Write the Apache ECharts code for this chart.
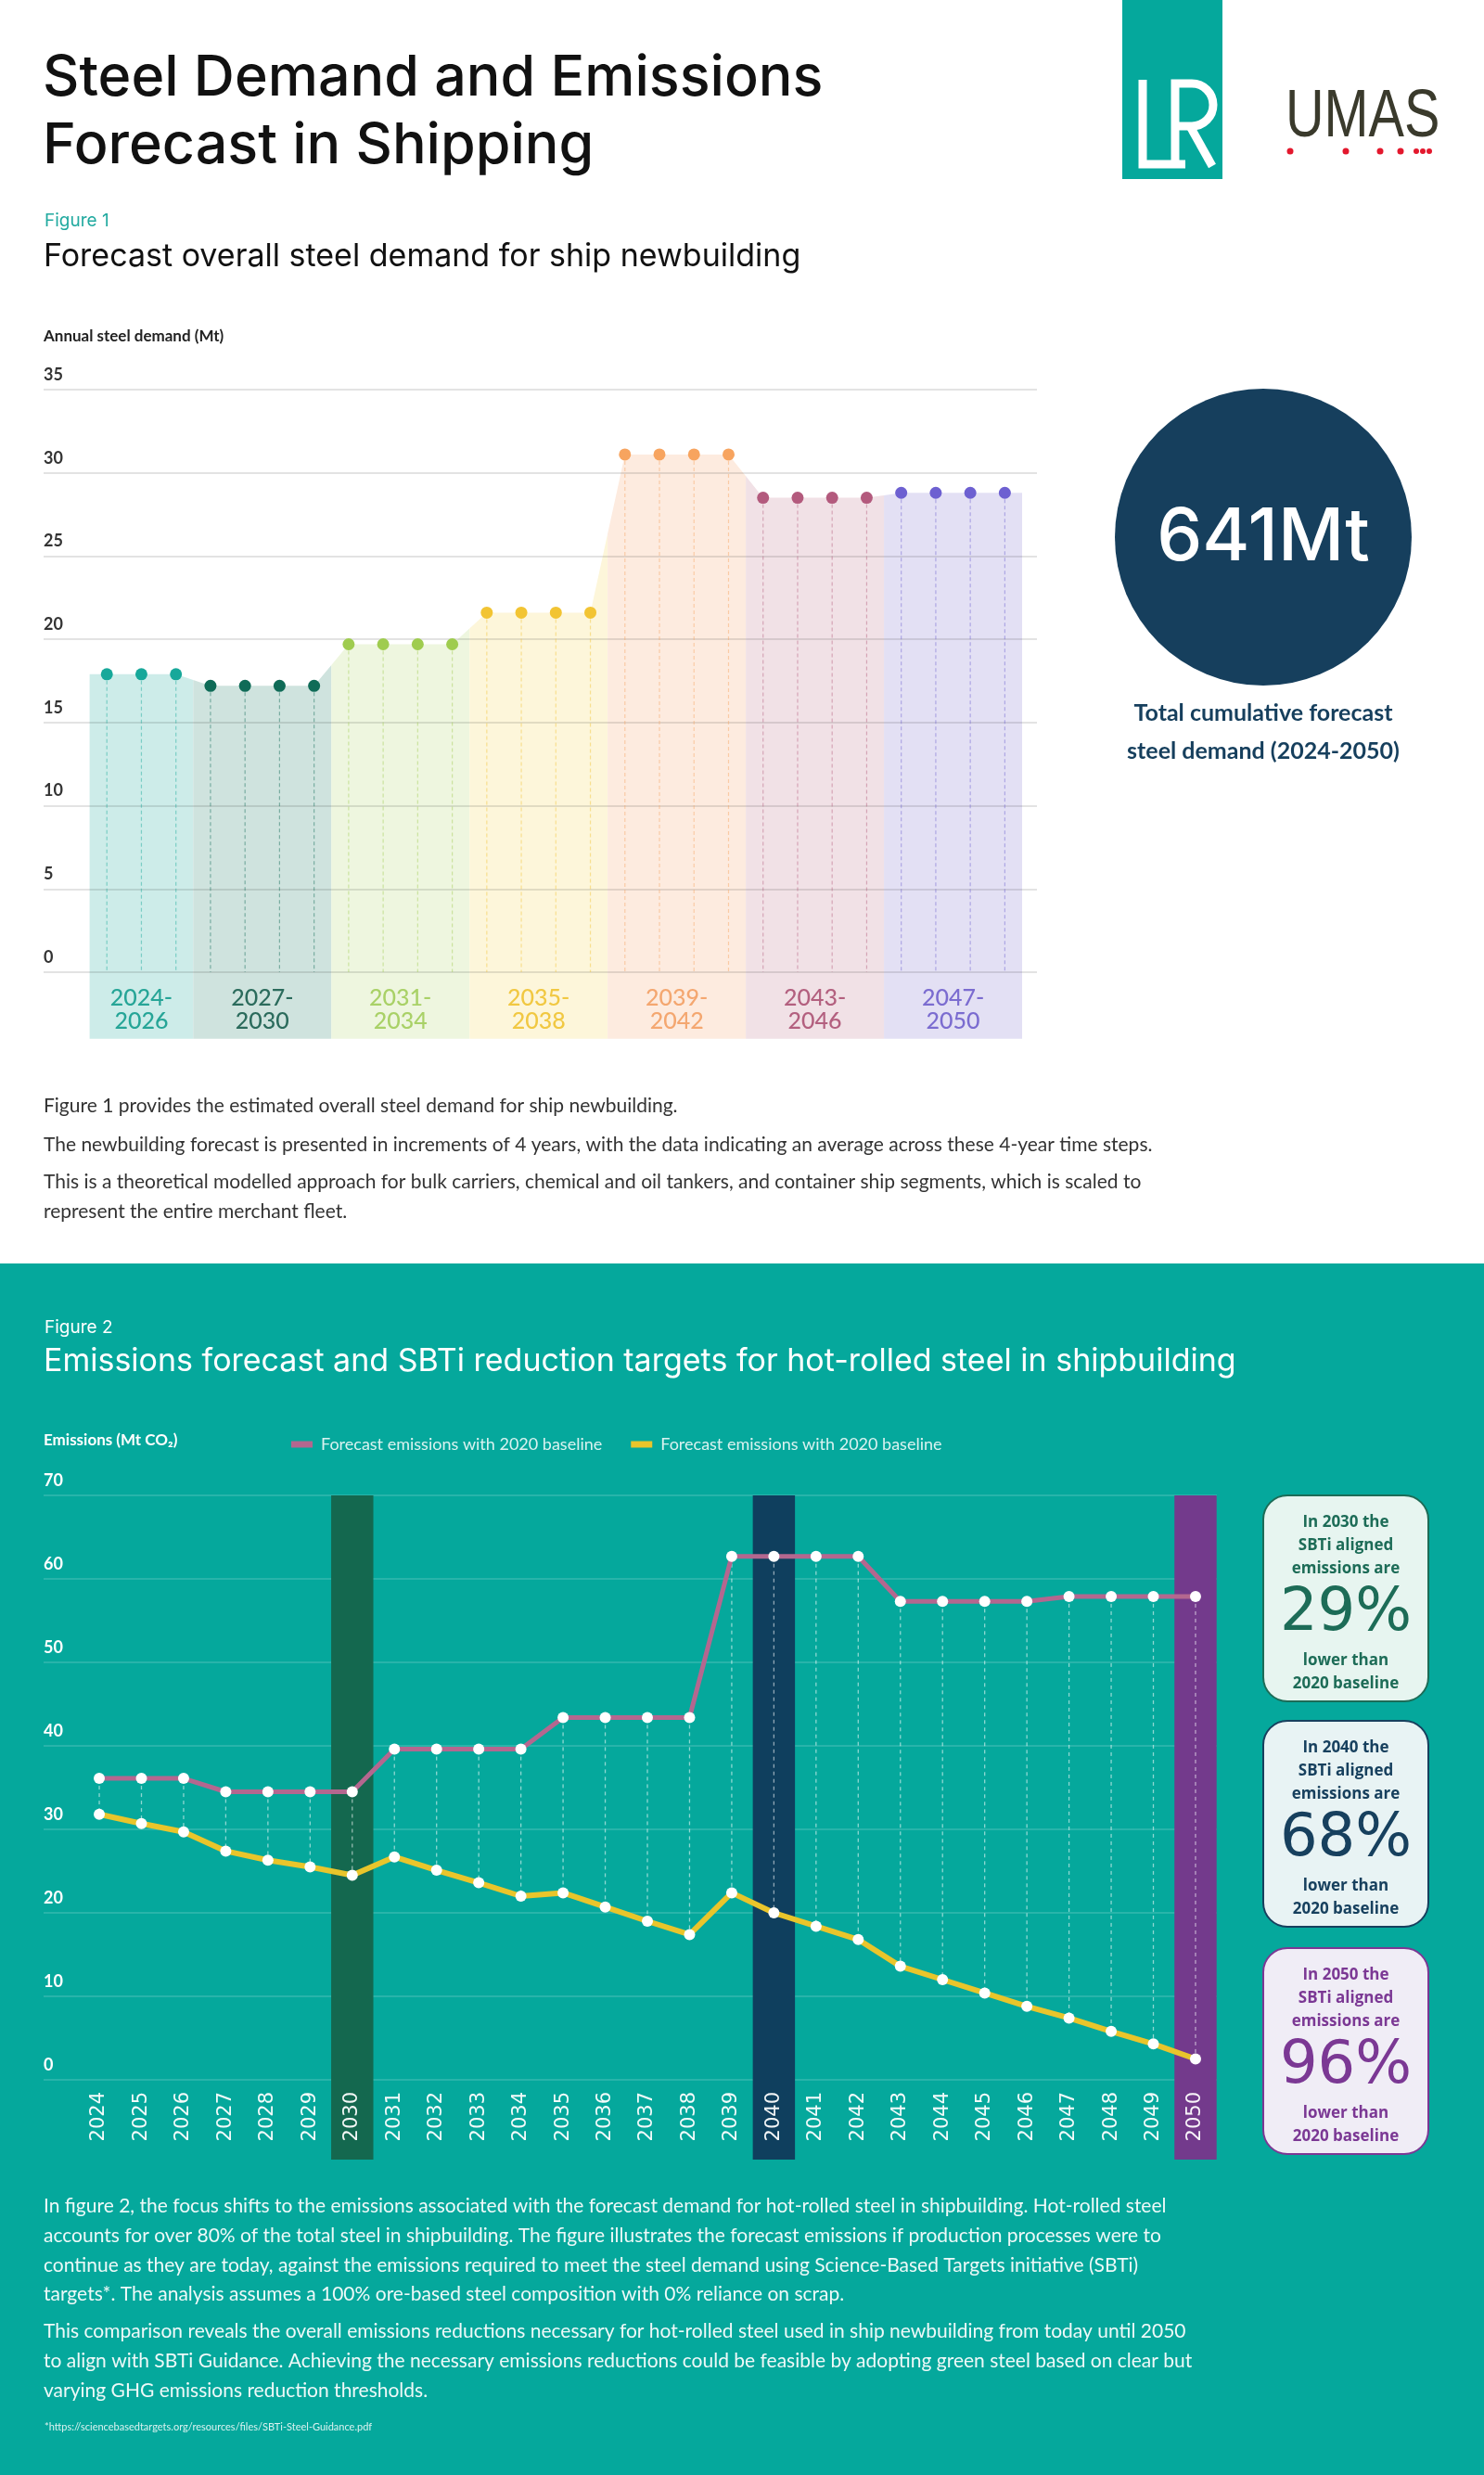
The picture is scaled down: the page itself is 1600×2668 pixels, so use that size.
<!DOCTYPE html>
<html>
<head>
<meta charset="utf-8">
<script src="https://cdn.jsdelivr.net/npm/echarts@6.0.0/dist/echarts.min.js"></script>
<style>
html,body{margin:0;padding:0;background:#fff;}
#chart{width:1600px;height:2668px;}
</style>
</head>
<body>
<div id="chart"></div>
<script>
// ---------- Figure 1 data ----------
const steelYears = [2024,2025,2026,2027,2028,2029,2030,2031,2032,2033,2034,2035,2036,2037,2038,2039,2040,2041,2042,2043,2044,2045,2046,2047,2048,2049,2050];
const steelValues = [17.9,17.9,17.9,17.2,17.2,17.2,17.2,19.7,19.7,19.7,19.7,21.6,21.6,21.6,21.6,31.1,31.1,31.1,31.1,28.5,28.5,28.5,28.5,28.8,28.8,28.8,28.8];
const groupLabels = ['2024-\n2026','2027-\n2030','2031-\n2034','2035-\n2038','2039-\n2042','2043-\n2046','2047-\n2050'];
const groupStart = [2024,2027,2031,2035,2039,2043,2047];
const groupEnd = [2026,2030,2034,2038,2042,2046,2050];
const totalDemand = '641Mt';

// ---------- Figure 2 data ----------
const emisYears = ['2024','2025','2026','2027','2028','2029','2030','2031','2032','2033','2034','2035','2036','2037','2038','2039','2040','2041','2042','2043','2044','2045','2046','2047','2048','2049','2050'];
const forecastEmissions = [36.1,36.1,36.1,34.5,34.5,34.5,34.5,39.6,39.6,39.6,39.6,43.4,43.4,43.4,43.4,62.7,62.7,62.7,62.7,57.3,57.3,57.3,57.3,57.9,57.9,57.9,57.9];
const sbtiEmissions = [31.8,30.7,29.7,27.4,26.3,25.5,24.5,26.7,25.1,23.6,22.0,22.4,20.7,19.0,17.4,22.4,20.0,18.4,16.8,13.6,12.0,10.4,8.8,7.4,5.8,4.3,2.5];
const seriesNames = ['Forecast emissions with 2020 baseline','SBTi aligned emissions'];
const legendLabels = ['Forecast emissions with 2020 baseline','Forecast emissions with 2020 baseline'];
const highlightYears = ['2030','2040','2050'];
const reductionPct = ['29%','68%','96%'];

// ---------- styles ----------
const bandFill = ['#cdece9','#cfe3de','#eef6df','#fdf6da','#fdebdf','#f1e1e6','#e3e0f4'];
const dotColor = ['#17a89a','#0f6b57','#9fcc4f','#f2c433','#f7a45f','#b35a7d','#6d60d1'];
const labelColor = ['#26a597','#2b6b5c','#a9d167','#f1c842','#f4a770','#b3607f','#7b6cd0'];
const hlColor = ['#14684f','#0f3f5e','#733a8c'];
const boxFill = ['#e7f5f0','#e8f3f4','#f0edf6'];
const boxText = ['#1d6c57','#17405e','#7b3894'];
const teal = '#05a89c';
const pink = '#b4678f';
const yellow = '#e9c52b';

const groupOf = y => groupStart.findIndex((s, i) => y >= s && y <= groupEnd[i]);
const valAt = y => steelValues[steelYears.indexOf(y)];

const chart = echarts.init(document.getElementById('chart'), null, {renderer: 'canvas'});

// ---------- graphic (text, logos, boxes) ----------
const T = (x, y, text, font, fill, align) => ({
  type: 'text', x: x, y: y, z: 100,
  style: {text: text, font: font, fill: fill, align: align || 'left', verticalAlign: 'middle', textAlign: align || 'left', textVerticalAlign: 'middle'}
});

const graphics = [];
graphics.push({type:'rect', z:-10, shape:{x:0,y:1362,width:1600,height:1306}, style:{fill: teal}});
// LR logo
const wl = {stroke:'#fff', lineWidth:9, fill:null, lineJoin:'miter'};
graphics.push({type:'rect', z:50, shape:{x:1210,y:0,width:108,height:193}, style:{fill: teal}});
graphics.push({type:'polyline', z:51, shape:{points:[[1232,86],[1232,177],[1278,177]]}, style:wl});
graphics.push({type:'polyline', z:51, shape:{points:[[1267,177],[1267,90],[1285,90]]}, style:wl});
graphics.push({type:'polyline', z:51, shape:{points:[[1267,136],[1285,136]]}, style:wl});
graphics.push({type:'arc', z:51, shape:{cx:1285, cy:113, r:23, startAngle:-Math.PI/2, endAngle:Math.PI/2, clockwise:true}, style:wl});
graphics.push({type:'line', z:51, shape:{x1:1283, y1:136, x2:1307, y2:179}, style:wl});
// UMAS logo
graphics.push({type:'text', z:51, x:1386, y:127, scaleX:0.8, style:{text:'UMAS', font:'400 72px "Liberation Sans Narrow", "Liberation Sans", sans-serif', fill:'#3a3a2c', verticalAlign:'middle', textVerticalAlign:'middle'}});
[[1391,3.5],[1451,3.5],[1488,3.5],[1510,3.5],[1527,3],[1534,3],[1541,3]].forEach(d => {
  graphics.push({type:'circle', z:51, shape:{cx:d[0], cy:163, r:d[1]}, style:{fill:'#e3182d'}});
});
// Titles
graphics.push(T(46, 85, 'Steel Demand and Emissions', '500 61px Inter', '#111'));
graphics.push(T(46, 158, 'Forecast in Shipping', '500 61px Inter', '#111'));
graphics.push(T(48, 238, 'Figure 1', '400 19px Inter', '#22aaa0'));
graphics.push(T(47, 277, 'Forecast overall steel demand for ship newbuilding', '400 34px Inter', '#111'));
graphics.push(T(47, 363, 'Annual steel demand (Mt)', '700 17px Lato', '#222'));
// circle
graphics.push({type:'circle', z:5, shape:{cx:1362, cy:579, r:160}, style:{fill:'#163f5d'}});
graphics.push(T(1362, 581, totalDemand, '500 78px Inter', '#fff', 'center'));
graphics.push(T(1362, 769, 'Total cumulative forecast', '700 25px Lato', '#163f5d', 'center'));
graphics.push(T(1362, 810, 'steel demand (2024-2050)', '700 25px Lato', '#163f5d', 'center'));
// Figure 1 paragraphs
const p1 = [
  ['Figure 1 provides the estimated overall steel demand for ship newbuilding.', 1192],
  ['The newbuilding forecast is presented in increments of 4 years, with the data indicating an average across these 4-year time steps.', 1234],
  ['This is a theoretical modelled approach for bulk carriers, chemical and oil tankers, and container ship segments, which is scaled to', 1274],
  ['represent the entire merchant fleet.', 1306]
];
p1.forEach(p => graphics.push(T(47, p[1], p[0], '400 21px Lato', '#333')));
// Figure 2 headings
graphics.push(T(48, 1431, 'Figure 2', '400 19px Inter', '#fff'));
graphics.push(T(47, 1468, 'Emissions forecast and SBTi reduction targets for hot-rolled steel in shipbuilding', '400 34px Inter', '#fff'));
graphics.push(T(47, 1553, 'Emissions (Mt CO₂)', '700 17px Lato, "Noto Sans"', '#fff'));
// Figure 2 paragraphs
const p2 = [
  ['In figure 2, the focus shifts to the emissions associated with the forecast demand for hot-rolled steel in shipbuilding. Hot-rolled steel', 2378],
  ['accounts for over 80% of the total steel in shipbuilding. The figure illustrates the forecast emissions if production processes were to', 2410],
  ['continue as they are today, against the emissions required to meet the steel demand using Science-Based Targets initiative (SBTi)', 2442],
  ['targets*. The analysis assumes a 100% ore-based steel composition with 0% reliance on scrap.', 2473],
  ['This comparison reveals the overall emissions reductions necessary for hot-rolled steel used in ship newbuilding from today until 2050', 2513],
  ['to align with SBTi Guidance. Achieving the necessary emissions reductions could be feasible by adopting green steel based on clear but', 2545],
  ['varying GHG emissions reduction thresholds.', 2577]
];
p2.forEach(p => graphics.push(T(47, p[1], p[0], '400 21px Lato', 'rgba(255,255,255,0.93)')));
graphics.push(T(48, 2616, '*https://sciencebasedtargets.org/resources/files/SBTi-Steel-Guidance.pdf', '400 11px Lato', 'rgba(255,255,255,0.85)'));
// Right boxes
const boxTop = [1612, 1855, 2100];
highlightYears.forEach((yr, i) => {
  const t = boxTop[i];
  graphics.push({type:'rect', z:20, shape:{x:1362, y:t, width:178, height:222, r:26}, style:{fill: boxFill[i], stroke: boxText[i], lineWidth: 2}});
  const f = '700 17px "Open Sans"';
  graphics.push(T(1451, t + 29, 'In ' + yr + ' the', f, boxText[i], 'center'));
  graphics.push(T(1451, t + 54, 'SBTi aligned', f, boxText[i], 'center'));
  graphics.push(T(1451, t + 79, 'emissions are', f, boxText[i], 'center'));
  graphics.push(T(1451, t + 128, reductionPct[i], '500 64px "DejaVu Sans"', boxText[i], 'center'));
  graphics.push(T(1451, t + 178, 'lower than', f, boxText[i], 'center'));
  graphics.push(T(1451, t + 203, '2020 baseline', f, boxText[i], 'center'));
});

// ---------- option ----------
const option = {
  animation: false,
  graphic: {elements: graphics},
  legend: {
    left: 309, top: 1543, itemWidth: 23, itemHeight: 7, itemGap: 31, icon: 'rect',
    data: [
      {name: seriesNames[0], icon: 'rect', itemStyle: {color: pink}},
      {name: seriesNames[1], icon: 'rect', itemStyle: {color: yellow}}
    ],
    formatter: n => legendLabels[seriesNames.indexOf(n)],
    textStyle: {color: 'rgba(255,255,255,0.85)', fontFamily: 'Lato', fontSize: 18, padding: [0,0,0,4]}
  },
  grid: [
    {left: 47, width: 1071, top: 420, height: 628},
    {left: 96.6, width: 1005.4, top: 420, height: 699.7},
    {left: 47, width: 1265, top: 1612, height: 630},
    {left: 84.3, width: 1227.4, top: 1612, height: 716},
    {left: 84.3, width: 1227.4, top: 1612, height: 630}
  ],
  xAxis: [
    {gridIndex: 0, type: 'value', min: 0, max: 1, show: false},
    {gridIndex: 1, type: 'value', min: 2023.5, max: 2050.5, show: false},
    {gridIndex: 2, type: 'value', min: 0, max: 1, show: false},
    {gridIndex: 3, type: 'category', data: emisYears, show: false, boundaryGap: true},
    {gridIndex: 4, type: 'category', data: emisYears, boundaryGap: true, z: 8,
      axisLine: {show: false}, axisTick: {show: false},
      axisLabel: {rotate: 90, margin: 13, color: 'rgba(255,255,255,0.95)', fontFamily: '"DejaVu Sans"', fontSize: 21, interval: 0}}
  ],
  yAxis: [
    {gridIndex: 0, type: 'value', min: 0, max: 35, interval: 5, z: 3,
      axisLine: {show: false}, axisTick: {show: false},
      axisLabel: {inside: true, margin: 0, verticalAlign: 'bottom', padding: [0,0,7,0], color: '#333', fontFamily: 'Lato', fontWeight: 'bold', fontSize: 18},
      splitLine: {lineStyle: {color: 'rgba(0,0,0,0.11)', width: 2}}},
    {gridIndex: 1, type: 'value', min: -4, max: 35, show: false},
    {gridIndex: 2, type: 'value', min: 0, max: 70, interval: 10,
      axisLine: {show: false}, axisTick: {show: false},
      axisLabel: {inside: true, margin: 0, verticalAlign: 'bottom', padding: [0,0,7,0], color: '#fff', fontFamily: 'Lato', fontWeight: 'bold', fontSize: 18},
      splitLine: {lineStyle: {color: 'rgba(255,255,255,0.14)', width: 2}}},
    {gridIndex: 3, type: 'value', min: 0, max: 1, show: false},
    {gridIndex: 4, type: 'value', min: 0, max: 70, show: false}
  ],
  series: [
    {type: 'line', xAxisIndex: 0, yAxisIndex: 0, data: [], silent: true},
    {type: 'line', xAxisIndex: 2, yAxisIndex: 2, data: [], silent: true},
    {
      type: 'custom', xAxisIndex: 1, yAxisIndex: 1, z: 1, silent: true,
      data: groupLabels.map((g, i) => [i]),
      renderItem: function (params, api) {
        const i = api.value(0);
        const s = groupStart[i], e = groupEnd[i];
        const a = s - 0.5, b = e + 0.5;
        const vS = valAt(s), vE = valAt(e);
        const yA = i > 0 ? (valAt(s - 1) + vS) / 2 : vS;
        const yB = i < groupStart.length - 1 ? (valAt(e + 1) + vE) / 2 : vE;
        const pts = [[a, yA], [s, vS], [e, vE], [b, yB], [b, -4], [a, -4]].map(p => api.coord(p));
        const y0 = api.coord([s, 0])[1];
        const cx = api.coord([(a + b) / 2, 0])[0];
        return {type: 'group', children: [
          {type: 'polygon', shape: {points: pts}, style: {fill: bandFill[i]}},
          {type: 'text', x: cx, y: y0 + 41, style: {text: groupLabels[i], fill: labelColor[i], font: '500 25px Lato', lineHeight: 25, align: 'center', verticalAlign: 'middle', textAlign: 'center', textVerticalAlign: 'middle'}}
        ]};
      }
    },
    {
      type: 'custom', xAxisIndex: 1, yAxisIndex: 1, z: 4, silent: true,
      data: steelYears.map((y, k) => [y, steelValues[k]]),
      renderItem: function (params, api) {
        const p1 = api.coord([api.value(0), api.value(1)]);
        const p0 = api.coord([api.value(0), 0]);
        const g = groupOf(api.value(0));
        return {type: 'line', shape: {x1: p1[0], y1: p1[1], x2: p0[0], y2: p0[1]},
          style: {stroke: dotColor[g], opacity: 0.45, lineWidth: 1.2, lineDash: [4, 3]}};
      }
    },
    {
      type: 'scatter', xAxisIndex: 1, yAxisIndex: 1, z: 5, symbolSize: 13, silent: true,
      data: steelYears.map((y, k) => [y, steelValues[k]]),
      itemStyle: {opacity: 1, color: p => dotColor[groupOf(p.data[0])]}
    },
    {
      type: 'bar', xAxisIndex: 3, yAxisIndex: 3, z: 1, silent: true, barWidth: '100%', barGap: 0,
      data: emisYears.map(y => highlightYears.includes(y) ? {value: 1, itemStyle: {color: hlColor[highlightYears.indexOf(y)]}} : '-')
    },
    {
      type: 'custom', xAxisIndex: 4, yAxisIndex: 4, z: 3, silent: true,
      data: emisYears.map((y, k) => [k, forecastEmissions[k], sbtiEmissions[k]]),
      renderItem: function (params, api) {
        const p1 = api.coord([api.value(0), api.value(1)]);
        const p2 = api.coord([api.value(0), api.value(2)]);
        return {type: 'line', shape: {x1: p1[0], y1: p1[1], x2: p2[0], y2: p2[1]},
          style: {stroke: 'rgba(255,255,255,0.55)', lineWidth: 1.3, lineDash: [4, 4]}};
      }
    },
    {
      name: seriesNames[0], type: 'line', xAxisIndex: 4, yAxisIndex: 4, z: 5,
      data: forecastEmissions, symbol: 'circle', symbolSize: 12, showAllSymbol: true,
      lineStyle: {color: pink, width: 5}, itemStyle: {color: '#fff', borderWidth: 0}
    },
    {
      name: seriesNames[1], type: 'line', xAxisIndex: 4, yAxisIndex: 4, z: 5,
      data: sbtiEmissions, symbol: 'circle', symbolSize: 12, showAllSymbol: true,
      lineStyle: {color: yellow, width: 6}, itemStyle: {color: '#fff', borderWidth: 0}
    }
  ]
};
chart.setOption(option);
</script>
</body>
</html>
